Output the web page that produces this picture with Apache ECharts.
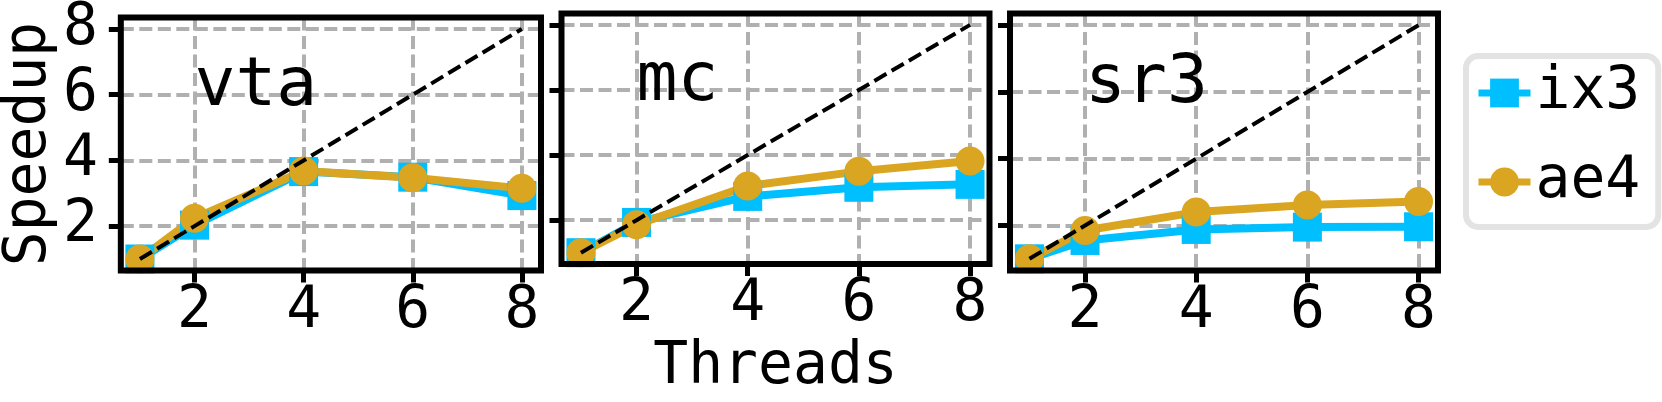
<!DOCTYPE html>
<html>
<head>
<meta charset="utf-8">
<script src="https://cdn.jsdelivr.net/npm/echarts@6/dist/echarts.min.js"></script>
<style>
html, body { margin: 0; padding: 0; background: #fff; }
#chart { width: 1662px; height: 402px; }
</style>
</head>
<body>
<div id="chart"></div>
<script>
// ---- data ----
const threads = [1, 2, 4, 6, 8];
const ideal = [1, 2, 4, 6, 8];
const panelNames = ['vta', 'mc', 'sr3'];
const seriesNames = ['ix3', 'ae4'];
const vtaIx3 = [1.0, 2.03, 3.66, 3.49, 2.93];
const vtaAe4 = [1.0, 2.24, 3.68, 3.47, 3.15];
const mcIx3 = [1.0, 1.93, 2.73, 3.01, 3.10];
const mcAe4 = [1.0, 1.86, 3.05, 3.50, 3.82];
const sr3Ix3 = [1.0, 1.55, 1.88, 1.95, 1.96];
const sr3Ae4 = [1.0, 1.85, 2.40, 2.61, 2.72];
const xTicks = [2, 4, 6, 8];
const yTicks = [2, 4, 6, 8];
const xLabel = 'Threads';
const yLabel = 'Speedup';

// ---- styling / layout ----
const FONT = 'DejaVu Sans Mono';
const FS = 58;
const FS_PANEL = 68;
const C_IX3 = '#00BFFF';
const C_AE4 = '#DAA520';
const gridLefts = [113, 561.5, 1010];
const GRID_W = 428, GRID_TOP = 13.5, GRID_H = 257;
const panelIx3 = [vtaIx3, mcIx3, sr3Ix3];
const panelAe4 = [vtaAe4, mcAe4, sr3Ae4];
const GRIDLINE = { color: '#b0b0b0', width: 4, type: [13, 5.5] };

const zip = (xs, ys) => xs.map((x, i) => [x, ys[i]]);

const grids = [], xAxes = [], yAxes = [], series = [];
panelNames.forEach((name, p) => {
  grids.push({
    left: gridLefts[p], top: GRID_TOP, width: GRID_W, height: GRID_H,
    show: true, borderColor: '#000', borderWidth: 6,
    backgroundColor: 'transparent', z: 5
  });
  xAxes.push({
    gridIndex: p, type: 'value', min: 0.65, max: 8.35,
    axisLine: { show: false },
    axisTick: { show: true, inside: false, length: 12, customValues: xTicks,
      lineStyle: { color: '#000', width: 5 } },
    axisLabel: { show: true, customValues: xTicks, margin: 12,
      fontFamily: FONT, fontSize: FS, lineHeight: FS, color: '#000' },
    splitLine: { show: true, lineStyle: GRIDLINE },
    name: p === 1 ? xLabel : '',
    nameLocation: 'middle', nameGap: 70,
    nameTextStyle: { fontFamily: FONT, fontSize: FS, lineHeight: FS, color: '#000' }
  });
  yAxes.push({
    gridIndex: p, type: 'value', min: 0.65, max: 8.35,
    axisLine: { show: false },
    axisTick: { show: true, inside: false, length: 12, customValues: yTicks,
      lineStyle: { color: '#000', width: 5 } },
    axisLabel: { show: p === 0, customValues: yTicks, margin: 23,
      fontFamily: FONT, fontSize: FS, lineHeight: FS, color: '#000' },
    splitLine: { show: true, lineStyle: GRIDLINE },
    name: p === 0 ? yLabel : '',
    nameLocation: 'middle', nameGap: 57, nameRotate: 90,
    nameTextStyle: { fontFamily: FONT, fontSize: FS, lineHeight: FS, color: '#000' }
  });
  series.push({
    name: seriesNames[0], type: 'line', xAxisIndex: p, yAxisIndex: p,
    data: zip(threads, panelIx3[p]),
    symbol: 'rect', symbolSize: 29, showSymbol: true,
    lineStyle: { color: C_IX3, width: 8 }, itemStyle: { color: C_IX3 },
    clip: true, z: 2
  });
  series.push({
    name: seriesNames[1], type: 'line', xAxisIndex: p, yAxisIndex: p,
    data: zip(threads, panelAe4[p]),
    symbol: 'circle', symbolSize: 29, showSymbol: true,
    lineStyle: { color: C_AE4, width: 8 }, itemStyle: { color: C_AE4 },
    clip: true, z: 2
  });
  series.push({
    name: 'ideal', type: 'line', xAxisIndex: p, yAxisIndex: p,
    data: zip(threads, ideal), symbol: 'none', silent: true,
    lineStyle: { color: '#000', width: 4, type: [14, 6] }, z: 3
  });
  series.push({
    name: 'label-' + name, type: 'scatter', xAxisIndex: p, yAxisIndex: p,
    data: [[2, 5.5]], symbolSize: 0, silent: true,
    itemStyle: { opacity: 1 },
    label: { show: true, formatter: name, position: 'right', distance: 0,
      offset: [0, -24], fontFamily: FONT, fontSize: FS_PANEL, lineHeight: FS_PANEL,
      color: '#000', opacity: 1 },
    z: 4
  });
});

const chart = echarts.init(document.getElementById('chart'), null, { renderer: 'canvas' });
chart.setOption({
  animation: false,
  backgroundColor: '#fff',
  grid: grids, xAxis: xAxes, yAxis: yAxes, series: series,
  legend: {
    data: seriesNames, orient: 'vertical', left: 1466, top: 56,
    itemWidth: 52, itemHeight: 36, itemGap: 31,
    padding: [8, 18, 16, 9],
    borderColor: '#e3e3e3', borderWidth: 6, borderRadius: 12,
    backgroundColor: '#fff', selectedMode: false,
    lineStyle: { width: 7 },
    textStyle: { fontFamily: FONT, fontSize: FS, lineHeight: FS, color: '#000' }
  }
});
</script>
</body>
</html>
